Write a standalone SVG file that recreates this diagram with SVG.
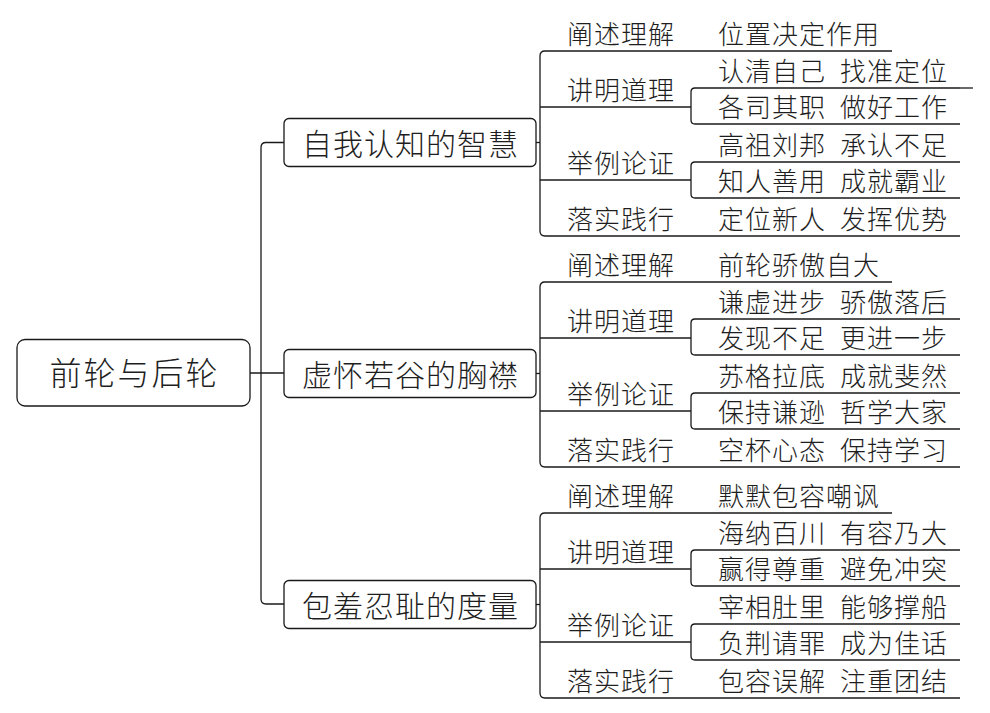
<svg xmlns="http://www.w3.org/2000/svg" width="990" height="713" viewBox="0 0 990 713">
<style>
.bg{fill:#ffffff}
.box{fill:#ffffff;stroke:#1a1a1a;stroke-width:1.3}
.ln{fill:none;stroke:#1a1a1a;stroke-width:1.3}
text{font-family:"Noto Sans CJK SC","Noto Sans CJK TC",sans-serif;font-weight:300;fill:#1e1e1e}
.root{font-size:32px;letter-spacing:2px;text-anchor:middle}
.main{font-size:30px;letter-spacing:1px;text-anchor:middle}
.l2{font-size:26px;letter-spacing:1px}
.l3{font-size:26px;letter-spacing:1px}
</style>
<defs>
<g id="grpLines" class="ln">
<path d="M536,142.5H540"/>
<path d="M540,56Q540,51 545,51H892"/>
<path d="M540,56V231"/>
<path d="M540,231Q540,236 545,236H960"/>
<path d="M540,107H691"/>
<path d="M540,180H691"/>
<path d="M691,92Q691,88 695,88H960"/>
<path d="M691,92V120"/>
<path d="M691,120Q691,124 695,124H960"/>
<path d="M691,166Q691,162 695,162H960"/>
<path d="M691,166V194"/>
<path d="M691,194Q691,198 695,198H960"/>
</g>
</defs>
<rect class="bg" x="0" y="0" width="990" height="713"/>
<g id="connectors">
<path class="ln" d="M250,373H284"/>
<path class="ln" d="M284,142.5H266Q261,142.5 261,147.5V599Q261,604 266,604H284"/>
<use href="#grpLines"/>
<use href="#grpLines" transform="translate(0,231)"/>
<use href="#grpLines" transform="translate(0,462)"/>
<path class="ln" d="M960,88H973"/>
</g>
<g id="root">
<rect class="box" x="17" y="339.5" width="233" height="66.5" rx="8"/>
<text class="root" x="134.5" y="385">前轮与后轮</text>
</g>
<g id="n1">
<rect class="box" x="284" y="118.5" width="252" height="48" rx="5"/>
<text class="main" x="410.5" y="155">自我认知的智慧</text>
</g>
<g id="n1a"><text class="l2" x="567" y="44">阐述理解</text><text class="l3" x="718" y="44">位置决定作用</text></g>
<g id="n1b"><text class="l2" x="567" y="100">讲明道理</text></g>
<g id="n1b1"><text class="l3" x="718" y="81">认清自己<tspan x="840">找准定位</tspan></text></g>
<g id="n1b2"><text class="l3" x="718" y="117">各司其职<tspan x="840">做好工作</tspan></text></g>
<g id="n1c"><text class="l2" x="567" y="173">举例论证</text></g>
<g id="n1c1"><text class="l3" x="718" y="155">高祖刘邦<tspan x="840">承认不足</tspan></text></g>
<g id="n1c2"><text class="l3" x="718" y="191">知人善用<tspan x="840">成就霸业</tspan></text></g>
<g id="n1d"><text class="l2" x="567" y="229">落实践行</text><text class="l3" x="718" y="229">定位新人<tspan x="840">发挥优势</tspan></text></g>
<g id="n2">
<rect class="box" x="284" y="349.5" width="252" height="48" rx="5"/>
<text class="main" x="410.5" y="386">虚怀若谷的胸襟</text>
</g>
<g id="n2a"><text class="l2" x="567" y="275">阐述理解</text><text class="l3" x="718" y="275">前轮骄傲自大</text></g>
<g id="n2b"><text class="l2" x="567" y="331">讲明道理</text></g>
<g id="n2b1"><text class="l3" x="718" y="312">谦虚进步<tspan x="840">骄傲落后</tspan></text></g>
<g id="n2b2"><text class="l3" x="718" y="348">发现不足<tspan x="840">更进一步</tspan></text></g>
<g id="n2c"><text class="l2" x="567" y="404">举例论证</text></g>
<g id="n2c1"><text class="l3" x="718" y="386">苏格拉底<tspan x="840">成就斐然</tspan></text></g>
<g id="n2c2"><text class="l3" x="718" y="422">保持谦逊<tspan x="840">哲学大家</tspan></text></g>
<g id="n2d"><text class="l2" x="567" y="460">落实践行</text><text class="l3" x="718" y="460">空杯心态<tspan x="840">保持学习</tspan></text></g>
<g id="n3">
<rect class="box" x="284" y="580.5" width="252" height="48" rx="5"/>
<text class="main" x="410.5" y="617">包羞忍耻的度量</text>
</g>
<g id="n3a"><text class="l2" x="567" y="506">阐述理解</text><text class="l3" x="718" y="506">默默包容嘲讽</text></g>
<g id="n3b"><text class="l2" x="567" y="562">讲明道理</text></g>
<g id="n3b1"><text class="l3" x="718" y="543">海纳百川<tspan x="840">有容乃大</tspan></text></g>
<g id="n3b2"><text class="l3" x="718" y="579">赢得尊重<tspan x="840">避免冲突</tspan></text></g>
<g id="n3c"><text class="l2" x="567" y="635">举例论证</text></g>
<g id="n3c1"><text class="l3" x="718" y="617">宰相肚里<tspan x="840">能够撑船</tspan></text></g>
<g id="n3c2"><text class="l3" x="718" y="653">负荆请罪<tspan x="840">成为佳话</tspan></text></g>
<g id="n3d"><text class="l2" x="567" y="691">落实践行</text><text class="l3" x="718" y="691">包容误解<tspan x="840">注重团结</tspan></text></g>
</svg>
